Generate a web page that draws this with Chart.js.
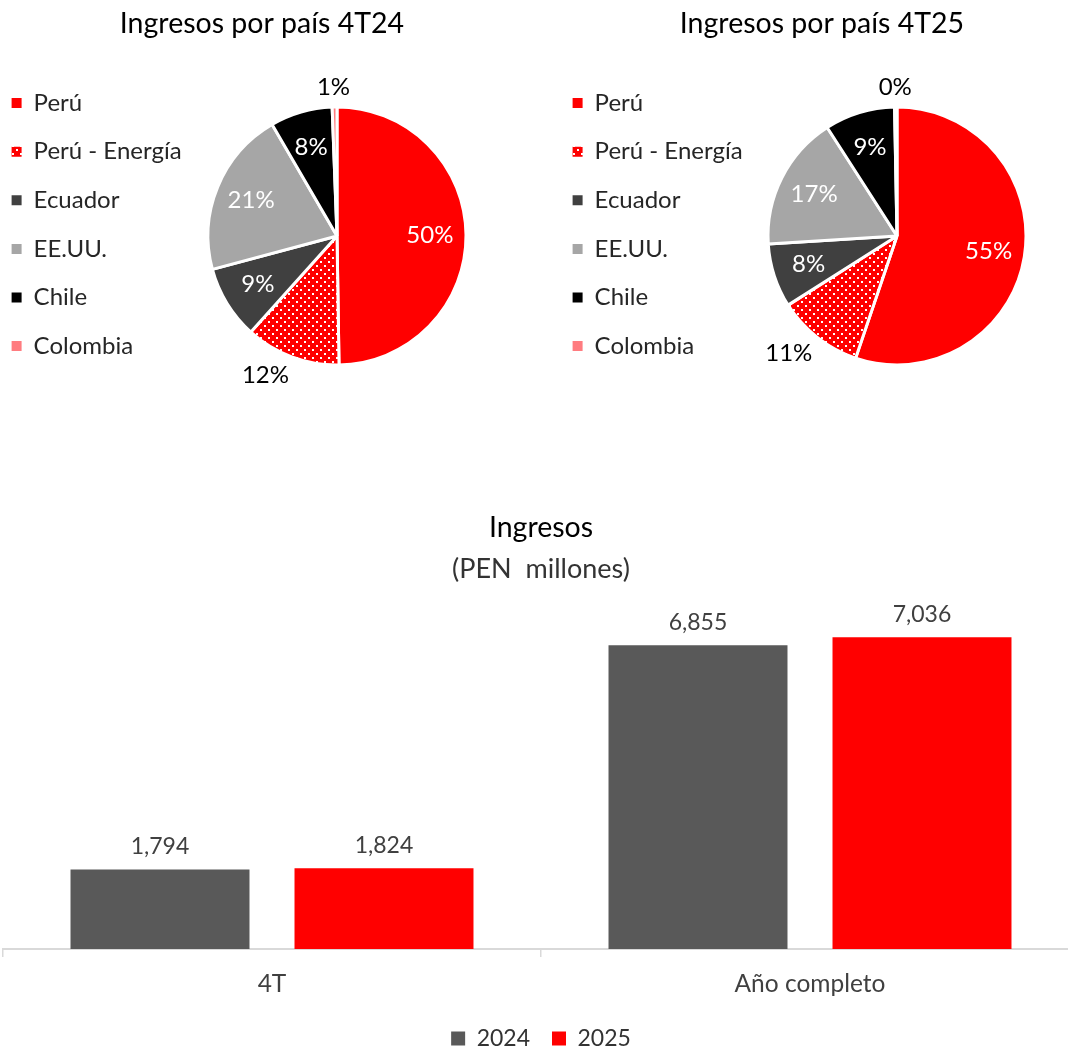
<!DOCTYPE html>
<html>
<head>
<meta charset="utf-8">
<script src="https://cdn.jsdelivr.net/npm/chart.js@4.4.1/dist/chart.umd.min.js"></script>
<style>
  html, body { margin: 0; padding: 0; background: #ffffff; overflow: hidden; width: 1068px; height: 1048px; }
  .box { position: absolute; }
</style>
</head>
<body>
<div class="box" style="left:-13px; top:0; width:550px; height:420px;"><canvas id="pie1"></canvas></div>
<div class="box" style="left:548px; top:0; width:548px; height:420px;"><canvas id="pie2"></canvas></div>
<div class="box" style="left:0; top:480px; width:1082px; height:580px;"><canvas id="bars"></canvas></div>
<script>
// ---------- data ----------
const countries = ['Perú', 'Perú - Energía', 'Ecuador', 'EE.UU.', 'Chile', 'Colombia'];
const share4T24 = [49.8, 11.9, 9.2, 20.8, 7.8, 0.6];
const share4T25 = [55.2, 10.8, 8.0, 16.9, 8.8, 0.3];
const pieTitles = ['Ingresos por país 4T24', 'Ingresos por país 4T25'];

const barCategories = ['4T', 'Año completo'];
const barSeries = ['2024', '2025'];
const rev2024 = [1794, 6855];
const rev2025 = [1824, 7036];

// ---------- styles ----------
const FONT = 'Lato';
function dotPattern() {
  const c = document.createElement('canvas');
  c.width = 8; c.height = 8;
  const g = c.getContext('2d');
  g.fillStyle = '#FF0000'; g.fillRect(0, 0, 8, 8);
  g.fillStyle = '#FFFFFF'; g.fillRect(1, 1, 2, 2); g.fillRect(5, 5, 2, 2);
  return g.createPattern(c, 'repeat');
}
const pieColors = ['#FF0000', dotPattern(), '#404040', '#A6A6A6', '#000000', '#FF7C80'];
const labelPlacement = ['in', 'out', 'in', 'in', 'in', 'out'];

// ---------- plugins ----------
const pieLabels = {
  id: 'pieLabels',
  afterDatasetsDraw(chart, args, opts) {
    const ds = chart.data.datasets[0];
    const total = ds.data.reduce((a, b) => a + b, 0);
    const ctx = chart.ctx;
    ctx.save();
    ctx.font = opts.size + 'px ' + FONT;
    ctx.textAlign = 'center';
    ctx.textBaseline = 'middle';
    chart.getDatasetMeta(0).data.forEach((arc, i) => {
      const p = arc.getProps(['x', 'y', 'startAngle', 'endAngle', 'outerRadius'], true);
      const mid = (p.startAngle + p.endAngle) / 2;
      const txt = Math.round(ds.data[i] * 100 / total) + '%';
      const c = Math.cos(mid), s = Math.sin(mid);
      let x, y;
      if (opts.placement[i] === 'in') {
        const r = p.outerRadius * opts.inside;
        x = p.x + c * r; y = p.y + s * r;
        ctx.fillStyle = '#FFFFFF';
      } else {
        const hw = ctx.measureText(txt).width / 2, hh = opts.size * 0.5;
        const r = p.outerRadius + opts.gap;
        x = p.x + c * r + Math.sign(c) * hw * Math.min(1, Math.abs(c) * 3);
        y = p.y + s * r + s * hh;
        ctx.fillStyle = '#000000';
      }
      ctx.fillText(txt, x, y);
    });
    ctx.restore();
  }
};

// legend reserves a fixed layout width, but may draw wider text
const legendWidth = {
  id: 'legendWidth',
  beforeLayout(chart, args, opts) {
    const lg = chart.legend;
    if (lg && !lg._fixedWidth) {
      const orig = lg.fit;
      lg.fit = function () { orig.call(this); if (!this.isHorizontal()) this.width = opts.width; };
      lg._fixedWidth = true;
    }
  },
  afterLayout(chart, args, opts) {
    const lg = chart.legend;
    if (lg) { lg.width = opts.drawWidth; lg.right = lg.left + opts.drawWidth; }
  }
};

const barValues = {
  id: 'barValues',
  afterDatasetsDraw(chart, args, opts) {
    const ctx = chart.ctx;
    ctx.save();
    ctx.font = opts.size + 'px ' + FONT;
    ctx.fillStyle = opts.color;
    ctx.textAlign = 'center';
    ctx.textBaseline = 'middle';
    chart.data.datasets.forEach((ds, di) => {
      chart.getDatasetMeta(di).data.forEach((bar, i) => {
        ctx.fillText(ds.data[i].toLocaleString('en-US'), bar.x, bar.y - opts.offset);
      });
    });
    ctx.restore();
  }
};

// ---------- pies ----------
function pieConfig(title, values) {
  return {
    type: 'pie',
    data: {
      labels: countries,
      datasets: [{ data: values, backgroundColor: pieColors, borderColor: '#FFFFFF', borderWidth: 3 }]
    },
    options: {
      responsive: true,
      maintainAspectRatio: false,
      animation: false,
      radius: 129,
      layout: { padding: { left: 0, right: 0, top: 0, bottom: 14.5 } },
      plugins: {
        title: {
          display: true, text: title, color: '#000000',
          font: { family: FONT, size: 28.5, weight: 'normal' },
          padding: { top: 6.9, bottom: 25.4 }
        },
        legend: {
          position: 'left', align: 'start', fullSize: false,
          labels: {
            boxWidth: 10, boxHeight: 10, padding: 24.6, color: '#262626',
            font: { family: FONT, size: 24 },
            generateLabels: (chart) => Chart.overrides.pie.plugins.legend.labels.generateLabels(chart)
              .map(l => Object.assign(l, { lineWidth: 0 }))
          }
        },
        tooltip: { enabled: false },
        legendWidth: { width: 150, drawWidth: 230 },
        pieLabels: { size: 24, inside: 0.72, gap: 8, placement: labelPlacement }
      }
    },
    plugins: [legendWidth, pieLabels]
  };
}
new Chart(document.getElementById('pie1'), pieConfig(pieTitles[0], share4T24));
new Chart(document.getElementById('pie2'), pieConfig(pieTitles[1], share4T25));

// ---------- bars ----------
new Chart(document.getElementById('bars'), {
  type: 'bar',
  data: {
    labels: barCategories,
    datasets: [
      { label: barSeries[0], data: rev2024, backgroundColor: '#595959' },
      { label: barSeries[1], data: rev2025, backgroundColor: '#FF0000' }
    ]
  },
  options: {
    responsive: true,
    maintainAspectRatio: false,
    animation: false,
    layout: { padding: { left: 3, right: 3, top: 0, bottom: 0 } },
    datasets: { bar: { categoryPercentage: 0.8327, barPercentage: 0.799 } },
    scales: {
      x: {
        grid: { display: true, drawOnChartArea: false, drawTicks: true, tickLength: 8, color: '#D9D9D9', lineWidth: 1.5 },
        border: { display: true, color: '#D9D9D9', width: 2 },
        ticks: { font: { family: FONT, size: 24.5 }, color: '#404040', padding: 12 },
        afterFit: (s) => { s.height -= 5.4; }
      },
      y: { display: false, min: 0, max: 8000 }
    },
    plugins: {
      title: {
        display: true, text: 'Ingresos', color: '#000000',
        font: { family: FONT, size: 28.5, weight: 'normal' },
        padding: { top: 30.9, bottom: 0 }
      },
      subtitle: {
        display: true, text: '(PEN  millones)', color: '#333333',
        font: { family: FONT, size: 27, weight: 'normal' },
        padding: { top: 7.7, bottom: 9.3 }
      },
      legend: {
        position: 'bottom',
        labels: { boxWidth: 14, boxHeight: 14, padding: 22, color: '#333333', font: { family: FONT, size: 23 } }
      },
      tooltip: { enabled: false },
      barValues: { size: 23, color: '#404040', offset: 23 }
    }
  },
  plugins: [barValues]
});
</script>
</body>
</html>
